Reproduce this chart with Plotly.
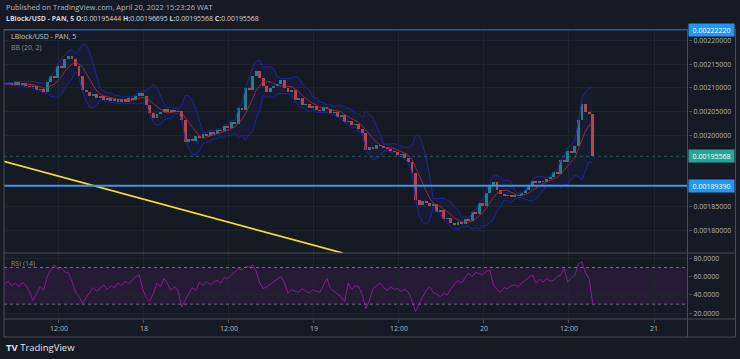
import plotly.graph_objects as go
import pandas as pd

# ---------------- data ----------------
start_time = "2022-04-17 04:20"
bar_minutes = 30
closes = [
    0.002108, 0.002110, 0.002106, 0.002112, 0.002106, 0.002110, 0.002104, 0.002102, 0.002104, 0.002096,
    0.002098, 0.002091, 0.002112, 0.002125, 0.002121, 0.002146, 0.002142, 0.002161, 0.002167, 0.002161,
    0.002146, 0.002125, 0.002096, 0.002091, 0.002083, 0.002087, 0.002079, 0.002083, 0.002074, 0.002079,
    0.002072, 0.002076, 0.002070, 0.002076, 0.002070, 0.002079, 0.002074, 0.002083, 0.002089, 0.002083,
    0.002064, 0.002047, 0.002036, 0.002045, 0.002049, 0.002055, 0.002049, 0.002053, 0.002049, 0.002051,
    0.002032, 0.001986, 0.001992, 0.001988, 0.001999, 0.001994, 0.002003, 0.001999, 0.002007, 0.002003,
    0.002011, 0.002009, 0.002020, 0.002015, 0.002028, 0.002024, 0.002058, 0.002054, 0.002100, 0.002096,
    0.002125, 0.002136, 0.002121, 0.002104, 0.002091, 0.002100, 0.002104, 0.002108, 0.002117, 0.002100,
    0.002091, 0.002095, 0.002074, 0.002078, 0.002064, 0.002066, 0.002058, 0.002062, 0.002053, 0.002051,
    0.002060, 0.002055, 0.002047, 0.002050, 0.002039, 0.002043, 0.002028, 0.002030, 0.002022, 0.002024,
    0.002013, 0.002005, 0.001969, 0.001975, 0.001971, 0.001980, 0.001977, 0.001973, 0.001971, 0.001967,
    0.001965, 0.001958, 0.001960, 0.001952, 0.001944, 0.001920, 0.001864, 0.001853, 0.001861, 0.001857,
    0.001851, 0.001855, 0.001838, 0.001842, 0.001823, 0.001826, 0.001815, 0.001811, 0.001817, 0.001813,
    0.001823, 0.001819, 0.001838, 0.001834, 0.001857, 0.001852, 0.001878, 0.001893, 0.001902, 0.001885,
    0.001876, 0.001872, 0.001874, 0.001870, 0.001874, 0.001872, 0.001878, 0.001885, 0.001893, 0.001904,
    0.001900, 0.001904, 0.001902, 0.001908, 0.001912, 0.001923, 0.001919, 0.001948, 0.001944, 0.001967,
    0.001962, 0.001977, 0.002032, 0.002066, 0.002049, 0.002045, 0.00195568,
]
first_open = 0.002110

rsi_values = [
    52, 55, 50, 53, 49, 54, 50, 44, 34, 42,
    49, 45, 60, 67, 73, 68, 70, 65, 64, 55,
    43, 38, 31, 37, 43, 48, 44, 47, 51, 46,
    50, 48, 53, 50, 55, 52, 56, 60, 62, 46,
    37, 33, 42, 53, 49, 58, 52, 45, 49, 44,
    27, 35, 42, 48, 45, 54, 50, 55, 51, 54,
    56, 53, 59, 58, 62, 66, 69, 67, 71, 70,
    73, 66, 53, 47, 49, 52, 55, 58, 60, 53,
    42, 46, 44, 43, 47, 44, 42, 46, 44, 43,
    50, 58, 47, 44, 42, 38, 33, 53, 46, 50,
    49, 40, 25, 34, 47, 50, 53, 48, 45, 49,
    46, 47, 44, 46, 43, 34, 22, 30, 38, 45,
    49, 43, 41, 38, 42, 40, 47, 52, 56, 53,
    58, 64, 60, 65, 63, 62, 66, 67, 51, 46,
    43, 48, 47, 50, 51, 49, 53, 56, 58, 62,
    53, 57, 54, 58, 55, 56, 60, 62, 69, 54,
    58, 62, 74, 76, 64, 58, 31,
]

bb_length = 6
bb_mult = 2
rsi_upper, rsi_lower = 70, 30

level_top = 0.0022222
level_support = 0.0018939
last_price = 0.00195568

trend_times = ["2022-04-17 04:05", "2022-04-19 04:05"]
trend_prices = [0.0019458, 0.0017517]

price_ticks = [0.0018, 0.00185, 0.0020, 0.00205, 0.0021, 0.00215, 0.0022]
rsi_ticks = [20, 40, 60, 80]
time_ticks = ["2022-04-17 12:00", "2022-04-18 00:00", "2022-04-18 12:00", "2022-04-19 00:00",
              "2022-04-19 12:00", "2022-04-20 00:00", "2022-04-20 12:00", "2022-04-21 00:00"]
time_labels = ["12:00", "18", "12:00", "19", "12:00", "20", "12:00", "21"]

header_line1 = "Published on TradingView.com, April 20, 2022 15:23:26 WAT"
ohlc_open, ohlc_high, ohlc_low, ohlc_close = "0.00195444", "0.00196695", "0.00195568", "0.00195568"

# ---------------- derived series ----------------
times = pd.date_range(start_time, periods=len(closes), freq=f"{bar_minutes}min")
opens = [first_open] + closes[:-1]
s = pd.Series(closes)
basis = s.rolling(bb_length, min_periods=1).mean()
dev = s.rolling(bb_length, min_periods=1).std(ddof=0).fillna(0)
upper = basis + bb_mult * dev
lower = basis - bb_mult * dev
body_base = [min(o, c) for o, c in zip(opens, closes)]
body_len = [abs(c - o) for o, c in zip(opens, closes)]
UP, DOWN = "#26a69a", "#ef5350"
body_col = [UP if c >= o else DOWN for o, c in zip(opens, closes)]

# ---------------- geometry ----------------
W, H = 740, 359
def px(x): return x / W
def py(y): return 1 - y / H

BG = "#161a25"
GRID = "#20242f"
BORDER = "#4a4d57"
TXT = "#b2b5be"
FONT = "Open Sans"

x_dom = [px(4), px(688)]
main_dom = [py(253), py(29)]
rsi_dom = [py(319), py(253)]
x_range = ["2022-04-17 04:14:24", "2022-04-21 04:48"]

fig = go.Figure()

# Bollinger bands
fig.add_trace(go.Scatter(x=times, y=upper, mode="lines", line=dict(color="#1d27a0", width=1),
                         hoverinfo="skip", xaxis="x", yaxis="y"))
fig.add_trace(go.Scatter(x=times, y=lower, mode="lines", line=dict(color="#1d27a0", width=1),
                         fill="tonexty", fillcolor="rgba(40,50,170,0.10)", hoverinfo="skip",
                         xaxis="x", yaxis="y"))

# candle bodies
fig.add_trace(go.Bar(x=times, y=body_len, base=body_base, width=bar_minutes * 60000 * 0.82,
                     marker=dict(color=body_col, line=dict(width=0), opacity=0.8),
                     hoverinfo="skip", xaxis="x", yaxis="y"))

fig.add_trace(go.Scatter(x=times, y=basis, mode="lines", line=dict(color="#b5283a", width=1),
                         opacity=0.85, hoverinfo="skip", xaxis="x", yaxis="y"))

# yellow trend line
fig.add_trace(go.Scatter(x=trend_times, y=trend_prices, mode="lines",
                         line=dict(color="#f5e12a", width=1.6), hoverinfo="skip",
                         xaxis="x", yaxis="y"))

# RSI
fig.add_trace(go.Scatter(x=times, y=rsi_values, mode="lines", line=dict(color="#82208f", width=1),
                         hoverinfo="skip", xaxis="x2", yaxis="y2"))

shapes = []
shapes.append(dict(type="rect", xref="x2 domain", yref="y2", x0=0, x1=1, y0=rsi_lower, y1=rsi_upper,
                   fillcolor="rgba(120,40,150,0.16)", line=dict(width=0), layer="below"))
for lv in (rsi_upper, rsi_lower):
    shapes.append(dict(type="line", xref="x2 domain", yref="y2", x0=0, x1=1, y0=lv, y1=lv,
                       line=dict(color="#6c6f7a", width=1, dash="dot")))
shapes.append(dict(type="line", xref="x domain", yref="y", x0=0, x1=1, y0=level_top, y1=level_top,
                   line=dict(color="#2a7fd0", width=1)))
shapes.append(dict(type="line", xref="x domain", yref="y", x0=0, x1=1, y0=level_support, y1=level_support,
                   line=dict(color="#3d96e6", width=2)))
shapes.append(dict(type="line", xref="x domain", yref="y", x0=0, x1=1, y0=last_price, y1=last_price,
                   line=dict(color="rgba(38,166,154,0.45)", width=1, dash="dot")))
def pline(x0, y0, x1, y1):
    shapes.append(dict(type="line", xref="paper", yref="paper", x0=px(x0), y0=py(y0), x1=px(x1), y1=py(y1),
                       line=dict(color=BORDER, width=1)))
pline(4, 29, 4, 337)
pline(735.5, 29, 735.5, 337)
pline(4, 337, 735.5, 337)
pline(4, 253, 735.5, 253)
pline(4, 319, 735.5, 319)
pline(687.5, 29, 687.5, 337)

annotations = []
annotations.append(dict(xref="paper", yref="paper", x=px(4), y=py(7), xanchor="left", yanchor="middle",
                        text=header_line1, showarrow=False, font=dict(family=FONT, size=7.45, color=TXT)))
annotations.append(dict(xref="paper", yref="paper", x=px(4), y=py(18), xanchor="left", yanchor="middle",
                        text=(f"<b>LBlock/USD - PAN, 5 O:</b>{ohlc_open} <b>H:</b>{ohlc_high} "
                              f"<b>L:</b>{ohlc_low} <b>C:</b>{ohlc_close}"),
                        showarrow=False, font=dict(family=FONT, size=6.95, color="#d1d4dc")))
annotations.append(dict(xref="paper", yref="paper", x=px(9), y=py(36), xanchor="left", yanchor="middle",
                        text="LBlock/USD - PAN, 5", showarrow=False,
                        font=dict(family=FONT, size=7.0, color="#c8cbd3")))
annotations.append(dict(xref="paper", yref="paper", x=px(9), y=py(47), xanchor="left", yanchor="middle",
                        text="BB (20, 2)", showarrow=False, font=dict(family=FONT, size=7.0, color="#8a8d97")))
annotations.append(dict(xref="paper", yref="paper", x=px(9), y=py(263), xanchor="left", yanchor="middle",
                        text="RSI (14)", showarrow=False, font=dict(family=FONT, size=7.0, color="#8a8d97")))
annotations.append(dict(xref="paper", yref="paper", x=px(4), y=py(347), xanchor="left", yanchor="middle",
                        text="<b>TV</b> TradingView", showarrow=False,
                        font=dict(family=FONT, size=9.5, color="#e0e3eb")))
for val, col in ((level_top, "#2196f3"), (last_price, "#26a69a"), (level_support, "#2196f3")):
    annotations.append(dict(xref="paper", yref="y", x=px(688), y=val, xanchor="left", yanchor="middle",
                            text=f"{val:.8f}", showarrow=False, bgcolor=col, width=43, height=10,
                            borderpad=1, font=dict(family=FONT, size=7, color="#ffffff")))

axis_common = dict(showline=False, zeroline=False, gridcolor=GRID, gridwidth=1)
fig.update_layout(
    width=W, height=H, margin=dict(l=0, r=0, t=0, b=0),
    paper_bgcolor=BG, plot_bgcolor=BG, showlegend=False, bargap=0,
    xaxis=dict(domain=x_dom, range=x_range, type="date", tickvals=time_ticks, showticklabels=False,
               matches="x2", anchor="y", **axis_common),
    xaxis2=dict(domain=x_dom, range=x_range, type="date", tickvals=time_ticks, ticktext=time_labels,
                anchor="y2", ticks="outside", ticklen=3, tickcolor=BORDER,
                tickfont=dict(family=FONT, size=7, color=TXT), **axis_common),
    yaxis=dict(domain=main_dom, range=[0.001752, 0.002224], side="right", anchor="x",
               tickvals=price_ticks, tickformat=".8f", ticks="outside", ticklen=3, tickcolor=BORDER,
               tickfont=dict(family=FONT, size=7, color=TXT), **axis_common),
    yaxis2=dict(domain=rsi_dom, range=[13.8, 85.8], side="right", anchor="x2",
                tickvals=rsi_ticks, tickformat=".4f", ticks="outside", ticklen=3, tickcolor=BORDER,
                tickfont=dict(family=FONT, size=7, color=TXT), **axis_common),
    shapes=shapes, annotations=annotations,
)

fig.write_html("out.html", config={"displayModeBar": False, "staticPlot": True},
               post_script="document.body.style.margin='0';document.body.style.background='" + BG + "';")
